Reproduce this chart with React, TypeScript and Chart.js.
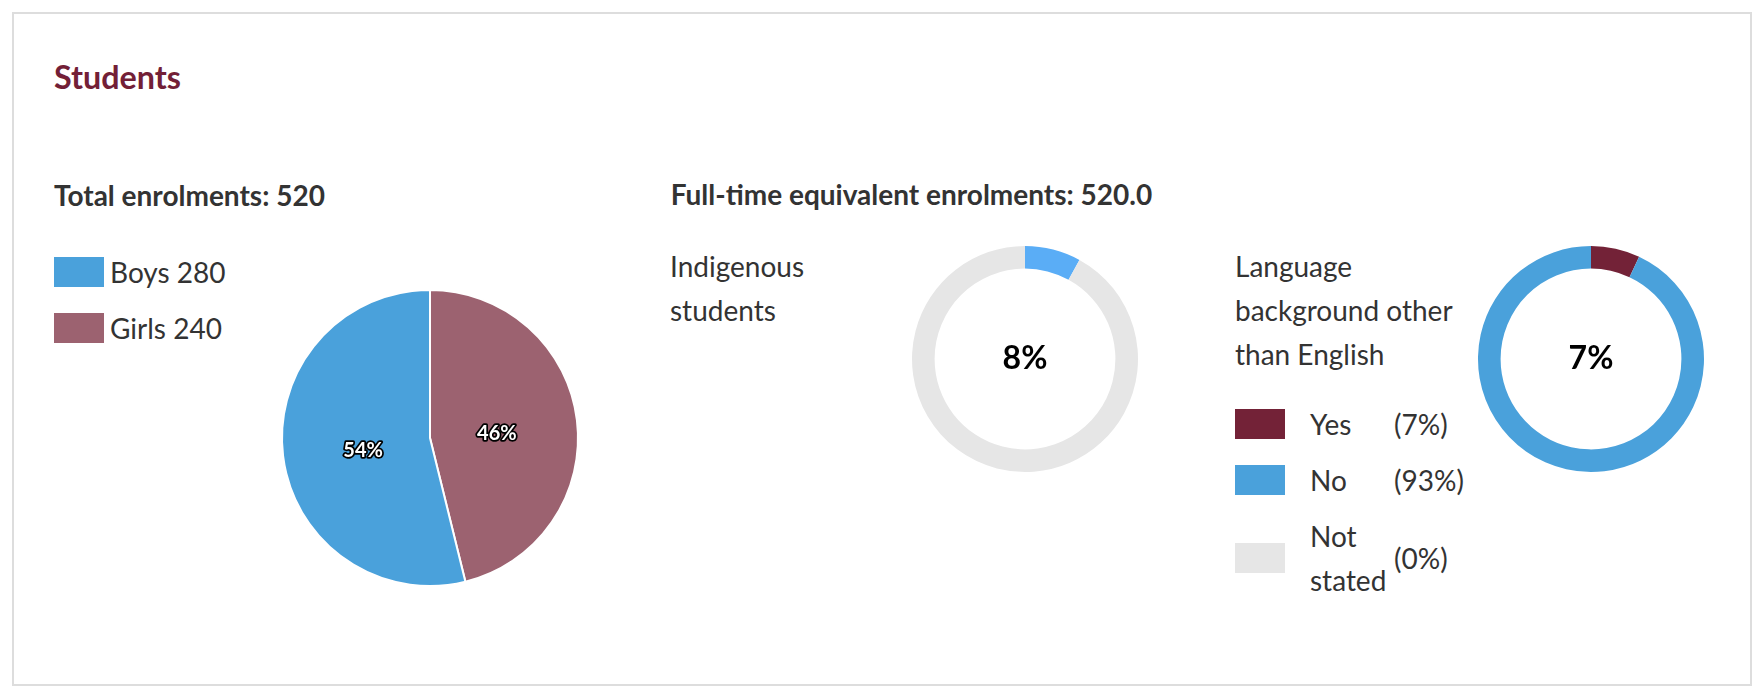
import React, { useEffect, useRef } from 'react';
import { Chart, registerables } from 'chart.js';
Chart.register(...registerables);

const sectionTitle = 'Students';
const totalEnrolments = 520;
const fteEnrolments = '520.0';

const genderLabels = ['Boys', 'Girls'];
const genderValues = [280, 240];
const genderColors = ['#4aa1db', '#9c6270'];

const indigenousLabels = ['Indigenous', 'Non-Indigenous'];
const indigenousValues = [8, 92];
const indigenousColors = ['#5aadf6', '#e6e6e6'];

const lboteLabels = ['Yes', 'No', 'Not stated'];
const lboteValues = [7, 93, 0];
const lboteColors = ['#732237', '#4aa1db', '#e6e6e6'];

const FONT = 'Lato, "Noto Sans", sans-serif';

const pieLabelPlugin = {
  id: 'pieLabels',
  afterDatasetsDraw(chart: any) {
    const ctx = chart.ctx;
    const meta = chart.getDatasetMeta(0);
    const data: number[] = chart.data.datasets[0].data;
    const total = data.reduce((a, b) => a + b, 0);
    meta.data.forEach((arc: any, i: number) => {
      const { x, y, startAngle, endAngle, outerRadius } = arc.getProps(
        ['x', 'y', 'startAngle', 'endAngle', 'outerRadius'],
        true
      );
      const mid = (startAngle + endAngle) / 2;
      const r = outerRadius * 0.455;
      const px = x + Math.cos(mid) * r;
      const py = y + Math.sin(mid) * r + 4;
      const text = Math.round((data[i] / total) * 100) + '%';
      ctx.save();
      ctx.font = 'bold 20px ' + FONT;
      ctx.textAlign = 'center';
      ctx.textBaseline = 'middle';
      ctx.lineJoin = 'round';
      ctx.lineWidth = 3.5;
      ctx.strokeStyle = '#000';
      ctx.strokeText(text, px, py);
      ctx.fillStyle = '#fff';
      ctx.fillText(text, px, py);
      ctx.restore();
    });
  },
};

const centerTextPlugin = {
  id: 'centerText',
  afterDatasetsDraw(chart: any, _args: any, opts: any) {
    const ctx = chart.ctx;
    const arc = chart.getDatasetMeta(0).data[0];
    if (!arc) return;
    ctx.save();
    ctx.font = 'bold 32px ' + FONT;
    ctx.textAlign = 'center';
    ctx.textBaseline = 'alphabetic';
    ctx.fillStyle = '#000';
    ctx.fillText(opts.text, arc.x, arc.y + 10);
    ctx.restore();
  },
};

function ChartCanvas({ makeConfig, left, top, size }: any) {
  const ref = useRef<HTMLCanvasElement | null>(null);
  useEffect(() => {
    const chart = new Chart(ref.current as HTMLCanvasElement, makeConfig());
    return () => chart.destroy();
  }, []);
  return (
    <canvas
      ref={ref}
      width={size}
      height={size}
      style={{ position: 'absolute', left, top, width: size, height: size }}
    />
  );
}

function Txt({ left, baseline, fs, lh, weight = 400, color = '#333', width, children }: any) {
  const top = baseline - lh / 2 - 0.387 * fs;
  return (
    <div
      style={{
        position: 'absolute',
        left,
        top,
        width,
        fontSize: fs,
        lineHeight: lh + 'px',
        fontWeight: weight,
        color,
        whiteSpace: width ? 'normal' : 'nowrap',
      }}
    >
      {children}
    </div>
  );
}

const baseOptions = {
  responsive: false,
  animation: false as const,
  events: [],
  plugins: { legend: { display: false }, tooltip: { enabled: false } },
};

export default function App() {
  const pieConfig = () => ({
    type: 'pie',
    data: {
      labels: [...genderLabels].reverse(),
      datasets: [
        {
          data: [...genderValues].reverse(),
          backgroundColor: [...genderColors].reverse(),
          borderColor: '#fff',
          borderWidth: 2,
          hoverOffset: 0,
        },
      ],
    },
    options: { ...baseOptions, radius: 148 },
    plugins: [pieLabelPlugin],
  });

  const donutConfig = (labels: string[], values: number[], colors: string[]) => () => ({
    type: 'doughnut',
    data: {
      labels,
      datasets: [
        {
          data: values,
          backgroundColor: colors,
          borderWidth: 0,
          hoverOffset: 0,
        },
      ],
    },
    options: {
      ...baseOptions,
      radius: 113,
      cutout: '80%',
      plugins: {
        ...baseOptions.plugins,
        centerText: { text: values[0] + '%' },
      },
    },
    plugins: [centerTextPlugin],
  });

  return (
    <div
      style={{
        position: 'absolute',
        left: 0,
        top: 0,
        width: 1764,
        height: 700,
        fontFamily: FONT,
        color: '#333',
        background: '#fff',
        overflow: 'hidden',
      }}
    >
      <div
        style={{
          position: 'absolute',
          left: 12,
          top: 12,
          width: 1740,
          height: 674,
          border: '2px solid #dddddd',
          boxSizing: 'border-box',
        }}
      />
      <Txt left={54} baseline={90} fs={32.3} lh={36} weight={700} color="#731f37">
        {sectionTitle}
      </Txt>
      <Txt left={54} baseline={205.5} fs={28} lh={32} weight={700}>
        Total enrolments: {totalEnrolments}
      </Txt>
      <Txt left={670.7} baseline={204.7} fs={28} lh={32} weight={700}>
        Full-time equivalent enrolments: {fteEnrolments}
      </Txt>

      <div style={{ position: 'absolute', left: 54, top: 257 }}>
        {genderLabels.map((l, i) => (
          <div key={l} style={{ display: 'flex', alignItems: 'center', height: 30, marginBottom: 26 }}>
            <div style={{ width: 50, height: 30, background: genderColors[i], flex: 'none' }} />
            <div style={{ marginLeft: 6, fontSize: 28, lineHeight: '30px', whiteSpace: 'nowrap' }}>
              {l} {genderValues[i]}
            </div>
          </div>
        ))}
      </div>

      <ChartCanvas makeConfig={pieConfig} left={270} top={278} size={320} />

      <Txt left={670} baseline={276.7} fs={28} lh={44} width={200}>
        Indigenous students
      </Txt>
      <ChartCanvas
        makeConfig={donutConfig(indigenousLabels, indigenousValues, indigenousColors)}
        left={905}
        top={239}
        size={240}
      />

      <Txt left={1235} baseline={277.3} fs={28} lh={44} width={228}>
        Language background other than English
      </Txt>
      <ChartCanvas
        makeConfig={donutConfig(lboteLabels, lboteValues, lboteColors)}
        left={1471}
        top={239}
        size={240}
      />

      <div style={{ position: 'absolute', left: 1235, top: 402 }}>
        {lboteLabels.map((l, i) => (
          <div key={l} style={{ display: 'flex', alignItems: 'center', marginBottom: 12 }}>
            <div style={{ width: 50, height: 30, background: lboteColors[i], flex: 'none' }} />
            <div style={{ marginLeft: 25, width: 84, fontSize: 28, lineHeight: '44px', flex: 'none' }}>{l}</div>
            <div style={{ fontSize: 28, lineHeight: '44px', whiteSpace: 'nowrap' }}>({lboteValues[i]}%)</div>
          </div>
        ))}
      </div>
    </div>
  );
}
